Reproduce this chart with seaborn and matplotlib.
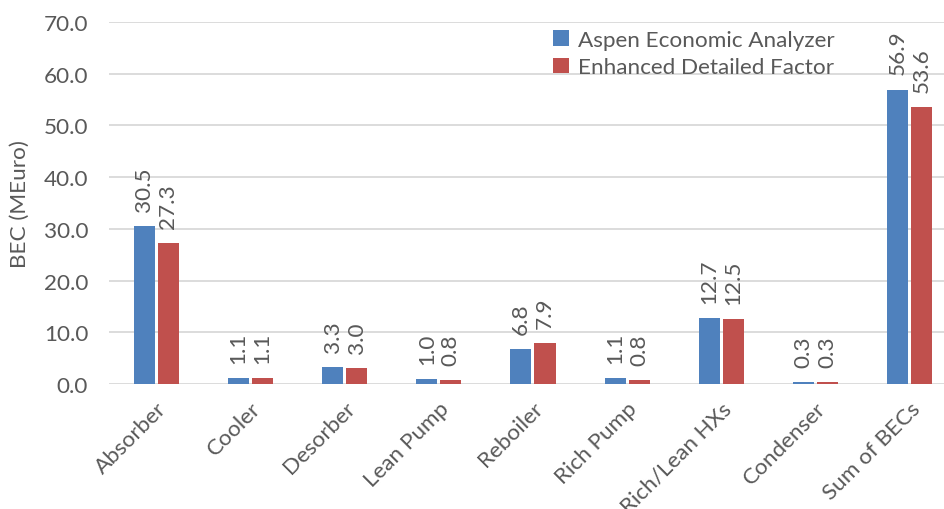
import pandas as pd
import matplotlib.pyplot as plt
import seaborn as sns

categories = ["Absorber", "Cooler", "Desorber", "Lean Pump", "Reboiler",
              "Rich Pump", "Rich/Lean HXs", "Condenser", "Sum of BECs"]
aspen = [30.5, 1.1, 3.3, 1.0, 6.8, 1.1, 12.7, 0.3, 56.9]
enhanced = [27.3, 1.1, 3.0, 0.8, 7.9, 0.8, 12.5, 0.3, 53.6]
series_names = ["Aspen Economic Analyzer", "Enhanced Detailed Factor"]
colors = ["#4F81BD", "#C0504D"]
text_color = "#595959"

sns.set_theme(style="whitegrid")
plt.rcParams["font.family"] = ["Lato", "DejaVu Sans"]

df = pd.DataFrame({
    "Component": categories * 2,
    "BEC": aspen + enhanced,
    "Method": [series_names[0]] * len(categories) + [series_names[1]] * len(categories),
})

fs = 16.2
fig = plt.figure(figsize=(9.44, 5.10), dpi=100)
ax = fig.add_axes([109 / 944, 125 / 510, (944 - 109) / 944, 362 / 510])

sns.barplot(data=df, x="Component", y="BEC", hue="Method", palette=colors,
            width=0.51, gap=0.125, ax=ax, saturation=1, linewidth=0)

for cont in ax.containers:
    ax.bar_label(cont, fmt="%.1f", rotation=90, padding=11, fontsize=fs, color=text_color)

ax.set_xlim(-0.5, 8.5 - 13 / 94.25)
ax.set_ylim(0, 70)
ax.set_yticks(range(0, 71, 10))
ax.set_yticklabels([f"{v:.1f}" for v in range(0, 71, 10)], fontsize=fs, color=text_color)
ax.set_xticks(range(len(categories)))
ax.set_xticklabels(categories, rotation=45, ha="right", rotation_mode="anchor",
                   fontsize=fs, color=text_color)
ax.set_xlabel("")
ax.set_ylabel("BEC (MEuro)", fontsize=fs, color=text_color, labelpad=10)
ax.grid(axis="y", color="#D9D9D9", linewidth=1.3)
ax.grid(axis="x", visible=False)
ax.tick_params(axis="y", length=0, pad=15)
ax.tick_params(axis="x", length=0, pad=10)
for s in ax.spines.values():
    s.set_visible(False)

ax.legend(loc="upper left", bbox_to_anchor=(0.508, 1.035), frameon=False,
          fontsize=fs, labelcolor=text_color, handlelength=0.7, handleheight=0.7,
          handletextpad=0.4, labelspacing=0.35)

fig.savefig("out.png", dpi=100)
